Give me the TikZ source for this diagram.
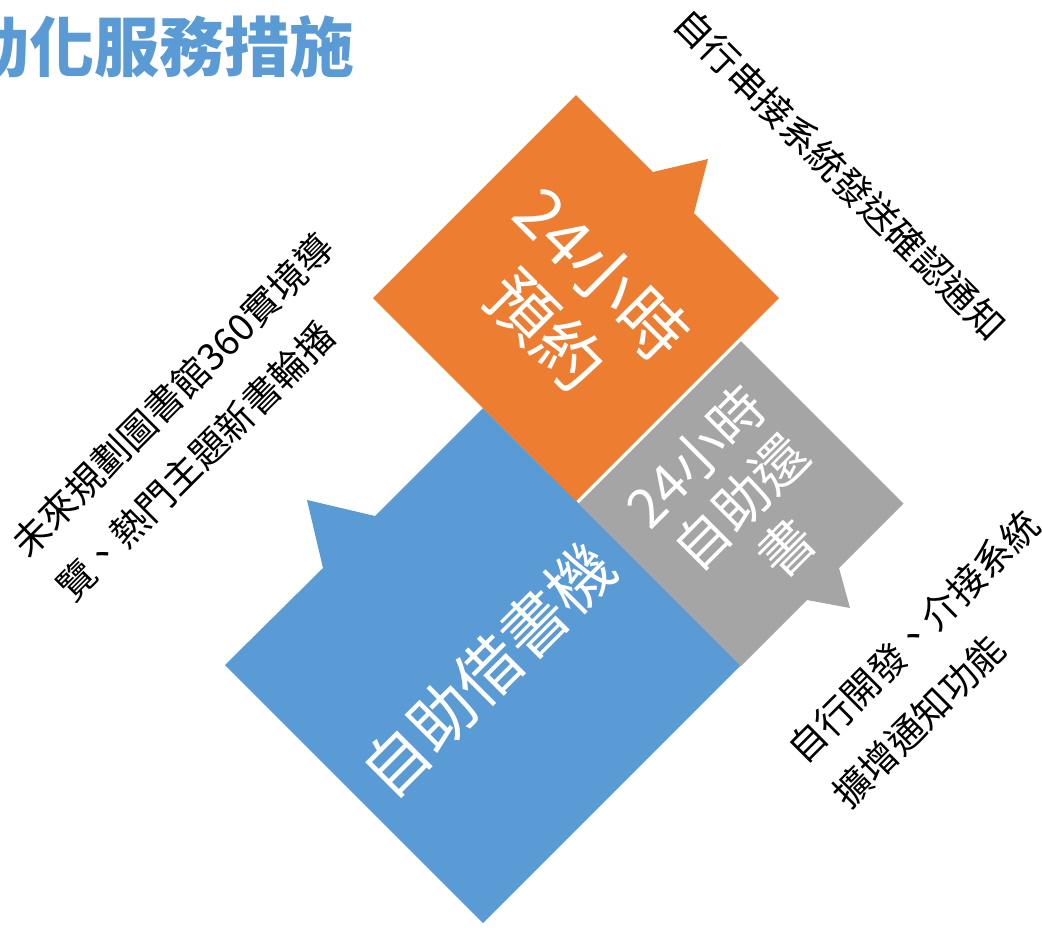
\documentclass[tikz,border=0pt]{standalone}
\usepackage{fontspec}
\setmainfont{Noto Sans CJK TC}
\definecolor{borrowblue}{HTML}{5B9BD5}
\definecolor{bookorange}{HTML}{ED7D31}
\definecolor{returngray}{HTML}{A5A5A5}
\tikzset{
  boxtext/.style={text=white, align=center, inner sep=0pt},
  notetext/.style={text=black, align=left, inner sep=0pt,
    font=\fontsize{21.3}{36}\selectfont}
}
\begin{document}
\begin{tikzpicture}[x=0.02cm,y=-0.02cm]
  \useasboundingbox (0,0) rectangle (1042,931);
  \clip (0,0) rectangle (1042,931);
  \node (title) [anchor=east, inner sep=0pt, text=borrowblue,
    font=\fontsize{37}{44}\selectfont\bfseries] at (355,47) {自動化服務措施};
  % self-checkout machine
  \coordinate (BL) at (225,665);
  \coordinate (BT) at (483,408);
  \coordinate (BR) at (741,665);
  \coordinate (BB) at (483,923);
  \fill[borrowblue] (BL) -- (323,568) -- (307,500) -- (375,516)
    -- (BT) -- (BR) -- (BB) -- cycle;
  % 24h reservation
  \coordinate (OT) at (576,95);
  \coordinate (OR) at (779,298);
  \coordinate (OB) at (576,501);
  \coordinate (OL) at (373,298);
  \fill[bookorange] (OT) -- (653,172) -- (708,159) -- (694,213)
    -- (OR) -- (OB) -- (OL) -- cycle;
  % 24h return
  \coordinate (GL) at (578.5,503.5);
  \coordinate (GT) at (741,341);
  \coordinate (GR) at (903.5,503.5);
  \coordinate (GB) at (741,666);
  \fill[returngray] (GL) -- (GT) -- (GR) -- (839,568) -- (850,608)
    -- (807,600) -- (GB) -- cycle;
  \node (borrow) [boxtext, rotate=45, font=\fontsize{37}{44}\selectfont]
    at (488,670) {自助借書機};
  \node (reserve) [boxtext, rotate=-45, font=\fontsize{38.5}{45}\selectfont]
    at (574,302) {24小時\\預約};
  \node (return) [boxtext, rotate=45, font=\fontsize{31}{36.5}\selectfont]
    at (741,502) {24小時\\自助還\\書};
  % notes
  \node (notify) [notetext, rotate=-45] at (840,174) {自行串接系統發送確認通知};
  \node (tour) [notetext, rotate=45] at (195,417)
    {未來規劃圖書館360實境導\\覽、熱門主題新書輪播};
  \node (extend) [notetext, rotate=45] at (936,659)
    {自行開發、介接系統\\擴增通知功能};
\end{tikzpicture}
\end{document}
